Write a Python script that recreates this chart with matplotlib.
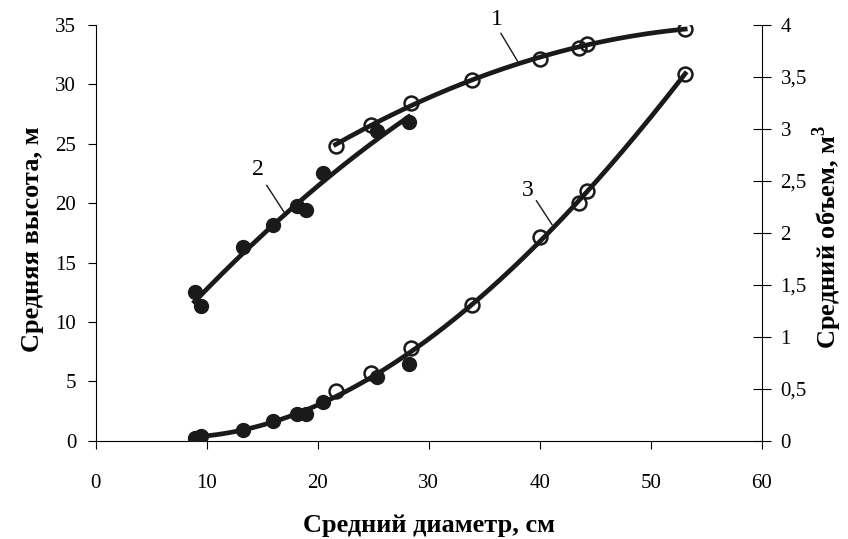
import numpy as np
import matplotlib
matplotlib.use('Agg')
import matplotlib.pyplot as plt
from matplotlib.ticker import FixedLocator, FuncFormatter

plt.rcParams['font.family'] = ['Liberation Serif', 'DejaVu Serif']
plt.rcParams['mathtext.fontset'] = 'custom'
plt.rcParams['mathtext.rm'] = 'Liberation Serif'
plt.rcParams['mathtext.bf'] = 'Liberation Serif:bold'

# curve 1: mean height, open circles (left axis)
d_open = [21.6, 24.8, 28.4, 33.9, 40.0, 43.5, 44.3, 53.1]
h_open = [24.8, 26.6, 28.4, 30.4, 32.1, 33.1, 33.4, 34.7]
# curve 2: mean height, filled circles (left axis)
d_fill = [8.9, 9.5, 13.3, 16.0, 18.1, 18.9, 20.5, 25.3, 28.2]
h_fill = [12.5, 11.3, 16.3, 18.2, 19.8, 19.4, 22.5, 26.1, 26.8]
# curve 3: mean volume (right axis)
v_open = [0.48, 0.65, 0.89, 1.31, 1.96, 2.29, 2.40, 3.53]
v_fill = [0.03, 0.045, 0.10, 0.19, 0.26, 0.26, 0.375, 0.61, 0.74]

xticks = [0, 10, 20, 30, 40, 50, 60]
yticks_left = [0, 5, 10, 15, 20, 25, 30, 35]
yticks_right = [0, 0.5, 1, 1.5, 2, 2.5, 3, 3.5, 4]


def trend(x, y, deg):
    c = np.polyfit(x, y, deg)
    xs = np.linspace(min(x), max(x), 200)
    return xs, np.polyval(c, xs)


fig = plt.figure(figsize=(8.48, 5.39), dpi=100)
ax = fig.add_axes([0.1129, 0.1824, 0.7854, 0.7712])
ax2 = ax.twinx()

lw = 3.4
x1, y1 = trend(d_open, h_open, 2)
ax.plot(x1, y1, color='#1a1a1a', lw=lw, zorder=2)
ax.plot(d_open, h_open, 'o', ms=10, mfc='none', mec='#1a1a1a', mew=1.8, zorder=3)

x2, y2 = trend(d_fill, h_fill, 2)
ax.plot(x2, y2, color='#1a1a1a', lw=lw, zorder=2)
ax.plot(d_fill, h_fill, 'o', ms=10, color='#1a1a1a', zorder=3)

x3, y3 = trend(d_fill + d_open, v_fill + v_open, 3)
ax2.plot(x3, y3, color='#1a1a1a', lw=lw, zorder=2)
ax2.plot(d_open, v_open, 'o', ms=10, mfc='none', mec='#1a1a1a', mew=1.8, zorder=3)
ax2.plot(d_fill, v_fill, 'o', ms=10, color='#1a1a1a', zorder=3)

ax.set_xlim(0, 60)
ax.set_ylim(0, 35)
ax2.set_ylim(0, 4)

for a in (ax, ax2):
    a.spines['top'].set_visible(False)
    for s in a.spines.values():
        s.set_linewidth(0.8)
ax.spines['right'].set_visible(False)
ax2.spines['left'].set_visible(False)
ax2.spines['bottom'].set_visible(False)

ax.xaxis.set_major_locator(FixedLocator(xticks))
ax.yaxis.set_major_locator(FixedLocator(yticks_left))
ax2.yaxis.set_major_locator(FixedLocator(yticks_right))
ax2.yaxis.set_major_formatter(FuncFormatter(lambda v, p: ('%g' % v).replace('.', ',')))

ax.tick_params(axis='x', direction='out', length=6, width=0.8, pad=18, labelsize=15)
ax.tick_params(axis='y', direction='out', length=6, width=0.8, pad=8, labelsize=15)
ax2.tick_params(axis='y', direction='inout', length=13, width=0.8, pad=7, labelsize=15)

ax.set_xlabel('Средний диаметр, см', fontsize=19, fontweight='bold')
ax.xaxis.label.set_va('baseline')
ax.xaxis.set_label_coords(0.5, -0.2196)

ax.set_ylabel('Средняя высота, м', fontsize=19, fontweight='bold')
ax.yaxis.label.set_va('center')
ax.yaxis.set_label_coords(-0.0956, 0.484)

ax2.set_ylabel(r'Средний объем, м$^{\mathbf{3}}$', fontsize=19, fontweight='bold')
ax2.yaxis.label.set_va('center')
ax2.yaxis.set_label_coords(1.099, 0.49)

# curve numbers with leader lines
ax.text(36.1, 35.5, '1', fontsize=17, ha='center', va='center', clip_on=False)
ax.plot([36.5, 38.0], [34.3, 31.95], color='#1a1a1a', lw=1.0, clip_on=False)
ax.text(14.6, 22.8, '2', fontsize=17, ha='center', va='center')
ax.plot([15.4, 17.0], [21.5, 19.2], color='#1a1a1a', lw=1.0)
ax.text(38.95, 21.1, '3', fontsize=17, ha='center', va='center')
ax.plot([39.7, 41.1], [20.2, 18.2], color='#1a1a1a', lw=1.0)

fig.savefig('out.png', dpi=100)
